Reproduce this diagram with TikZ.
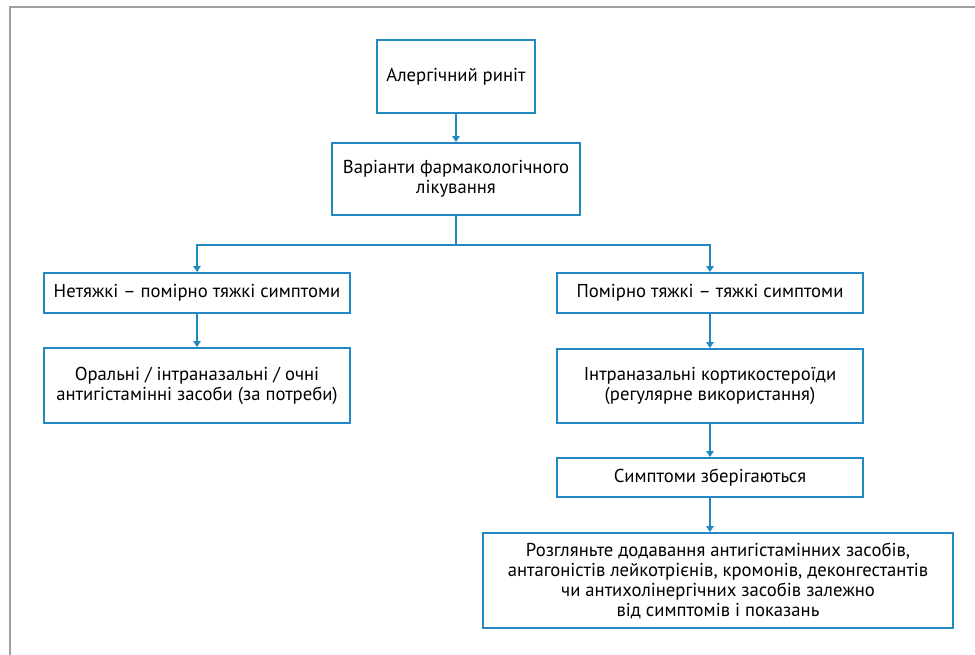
\documentclass[tikz,border=0pt]{standalone}
\usepackage{fontspec}
\setmainfont{PT Sans}
\usetikzlibrary{arrows.meta,positioning}

\definecolor{boxblue}{RGB}{34,136,196}
\definecolor{framegray}{RGB}{160,160,160}

\tikzset{
  stepbox/.style={draw=boxblue,line width=1.4pt,fill=white,align=center,
    inner sep=2pt,font=\fontsize{14pt}{15pt}\selectfont},
  link/.style={draw=boxblue,line width=1.1pt}
}

\begin{document}
\begin{tikzpicture}[x=0.75pt,y=-0.75pt,>={Triangle[length=4.5pt,width=5.5pt]}]

\useasboundingbox (0,0) rectangle (975,655);
\draw[framegray,line width=1.3pt] (10,655) -- (10,7) -- (975,7);

\node[stepbox,minimum width=118.5pt,minimum height=54.75pt] (ar)   at (456,76.5)  {Алергічний риніт};
\node[stepbox,minimum width=186pt,minimum height=54pt]     (var)  at (456,179)   {Варіанти фармакологічного\\лікування};

\node[stepbox,minimum width=229.5pt,minimum height=30pt]   (mild) at (197,293)   {Нетяжкі – помірно тяжкі симптоми};
\node[stepbox,minimum width=229.5pt,minimum height=56.25pt](anti) at (197,385.5) {Оральні / інтраназальні / очні\\антигістамінні засоби (за потреби)};

\node[stepbox,minimum width=229.5pt,minimum height=30pt]   (sev)  at (710,293)   {Помірно тяжкі – тяжкі симптоми};
\node[stepbox,minimum width=229.5pt,minimum height=55.5pt] (cort) at (710,386)   {Інтраназальні кортикостероїди\\(регулярне використання)};
\node[stepbox,minimum width=229.5pt,minimum height=29.25pt](pers) at (710,477.5) {Симптоми зберігаються};
\node[stepbox,minimum width=352.5pt,minimum height=71.25pt](add)  at (718,580.5) {Розгляньте додавання антигістамінних засобів,\\антагоністів лейкотрієнів, кромонів, деконгестантів\\чи антихолінергічних засобів залежно\\від симптомів і показань};

\path[link,->] (ar) -- (var);
\path[link] (var.south) -- ++(0,29) coordinate (fork);
\path[link,->] (fork) -| (mild.north);
\path[link,->] (fork) -| (sev.north);
\path[link,->] (mild) -- (anti);
\path[link,->] (sev) -- (cort);
\path[link,->] (cort) -- (pers);
\path[link,->] (pers.south) -- (pers.south |- add.north);

\end{tikzpicture}
\end{document}
